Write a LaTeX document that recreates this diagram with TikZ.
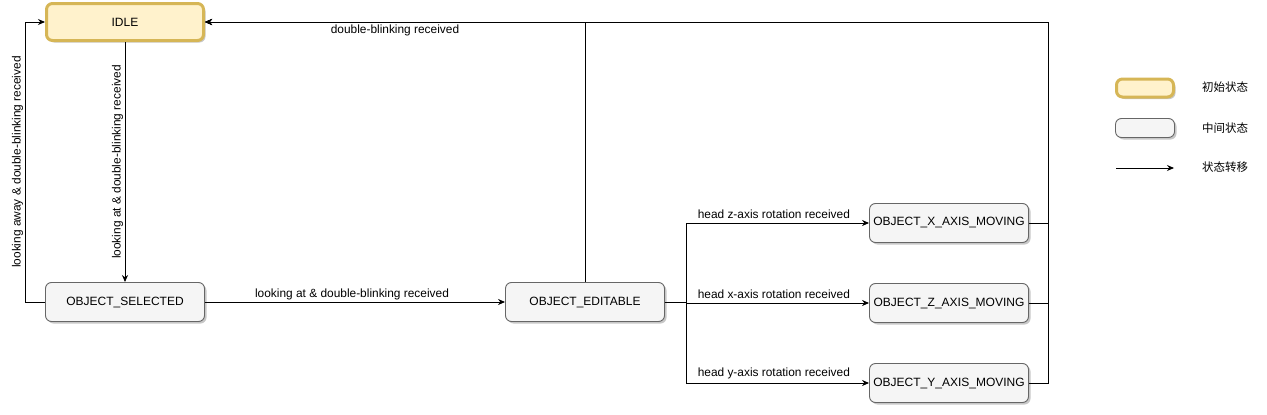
\documentclass[tikz,border=0pt]{standalone}
\usepackage{fontspec}
\setmainfont{Liberation Sans}
\newfontfamily\cjk{Noto Sans CJK SC}
\usetikzlibrary{arrows.meta,shadows}
\definecolor{gelbrand}{HTML}{D6B656}
\definecolor{gelbfuell}{HTML}{FFF2CC}
\definecolor{graurand}{HTML}{666666}
\definecolor{graufuell}{HTML}{F5F5F5}
\tikzset{
	schatten/.style={drop shadow={shadow xshift=2pt, shadow yshift=-2pt, opacity=0.22, fill=black}},
	zustand/.style={draw=graurand, fill=graufuell, line width=0.9pt, rounded corners=6pt, minimum width=159pt, minimum height=39pt, inner sep=0pt, font=\fontsize{12}{14}\selectfont, schatten},
	startzustand/.style={zustand, draw=gelbrand, fill=gelbfuell, line width=3pt, minimum width=157pt, minimum height=37pt},
	pfeil/.style={-{Stealth[length=7pt,width=6pt]}, line width=0.9pt},
	beschr/.style={font=\fontsize{11.9}{13}\selectfont, inner sep=2pt},
	legtext/.style={font=\cjk\fontsize{11.5}{13}\selectfont, anchor=center},
}
\begin{document}
\begin{tikzpicture}[x=1pt,y=-1pt]
		\useasboundingbox (0,0) rectangle (1267,415);
		% Zustaende
		\node [startzustand] (idle) at (125,22) {IDLE};
		\node [zustand] (selected) at (125,302) {OBJECT\_SELECTED};
		\node [zustand] (editable) at (585,302) {OBJECT\_EDITABLE};
		\node [zustand] (xmove) at (949,223) {OBJECT\_X\_AXIS\_MOVING};
		\node [zustand] (zmove) at (949,303) {OBJECT\_Z\_AXIS\_MOVING};
		\node [zustand] (ymove) at (949,383) {OBJECT\_Y\_AXIS\_MOVING};
		% Uebergaenge
		\draw [pfeil] (idle.south) -- node [midway, rotate=90, above, beschr, inner sep=1.5pt] {looking at \& double-blinking received} (selected.north);
		\draw [pfeil] (selected.west) -| node [pos=0.75, rotate=90, above, beschr, inner sep=1.5pt] {looking away \& double-blinking received} ([xshift=-20pt]idle.west) -- (idle.west);
		\draw [pfeil] (selected.east) -- node [pos=0.49, above, beschr] {looking at \& double-blinking received} (editable.west);
		\draw [pfeil] (editable.north) |- node [pos=0.75, below, beschr] {double-blinking received} (idle.east);
		\draw [pfeil] (editable.east) -- ++(21,0) |- node [pos=0.74, above, beschr, inner sep=3.5pt] {head z-axis rotation received} (xmove.west);
		\draw [pfeil] (editable.east) -- ++(21,0) |- node [pos=0.74, above, beschr, inner sep=3.5pt] {head x-axis rotation received} (zmove.west);
		\draw [pfeil] (editable.east) -- ++(21,0) |- node [pos=0.74, above, beschr, inner sep=3.5pt] {head y-axis rotation received} (ymove.west);
		% Rueckweg zu IDLE
		\foreach \z in {xmove,zmove,ymove} {
			\draw [pfeil] (\z.east) -- ++(19,0) |- (idle.east);
		}
		% Legende
		\node [startzustand, minimum width=57pt, minimum height=18pt] (leginit) at (1145,88) {};
		\node [zustand, minimum width=59pt, minimum height=19pt] (legmid) at (1145,128) {};
		\coordinate (legpfeilA) at (1116,168);
		\coordinate (legpfeilB) at (1174,168);
		\draw [pfeil] (legpfeilA) -- (legpfeilB);
		\node [legtext] (legtinit) at (1225,87) {初始状态};
		\node [legtext] (legtmid) at (1225,128) {中间状态};
		\node [legtext] (legtpfeil) at (1225,167) {状态转移};
\end{tikzpicture}
\end{document}
